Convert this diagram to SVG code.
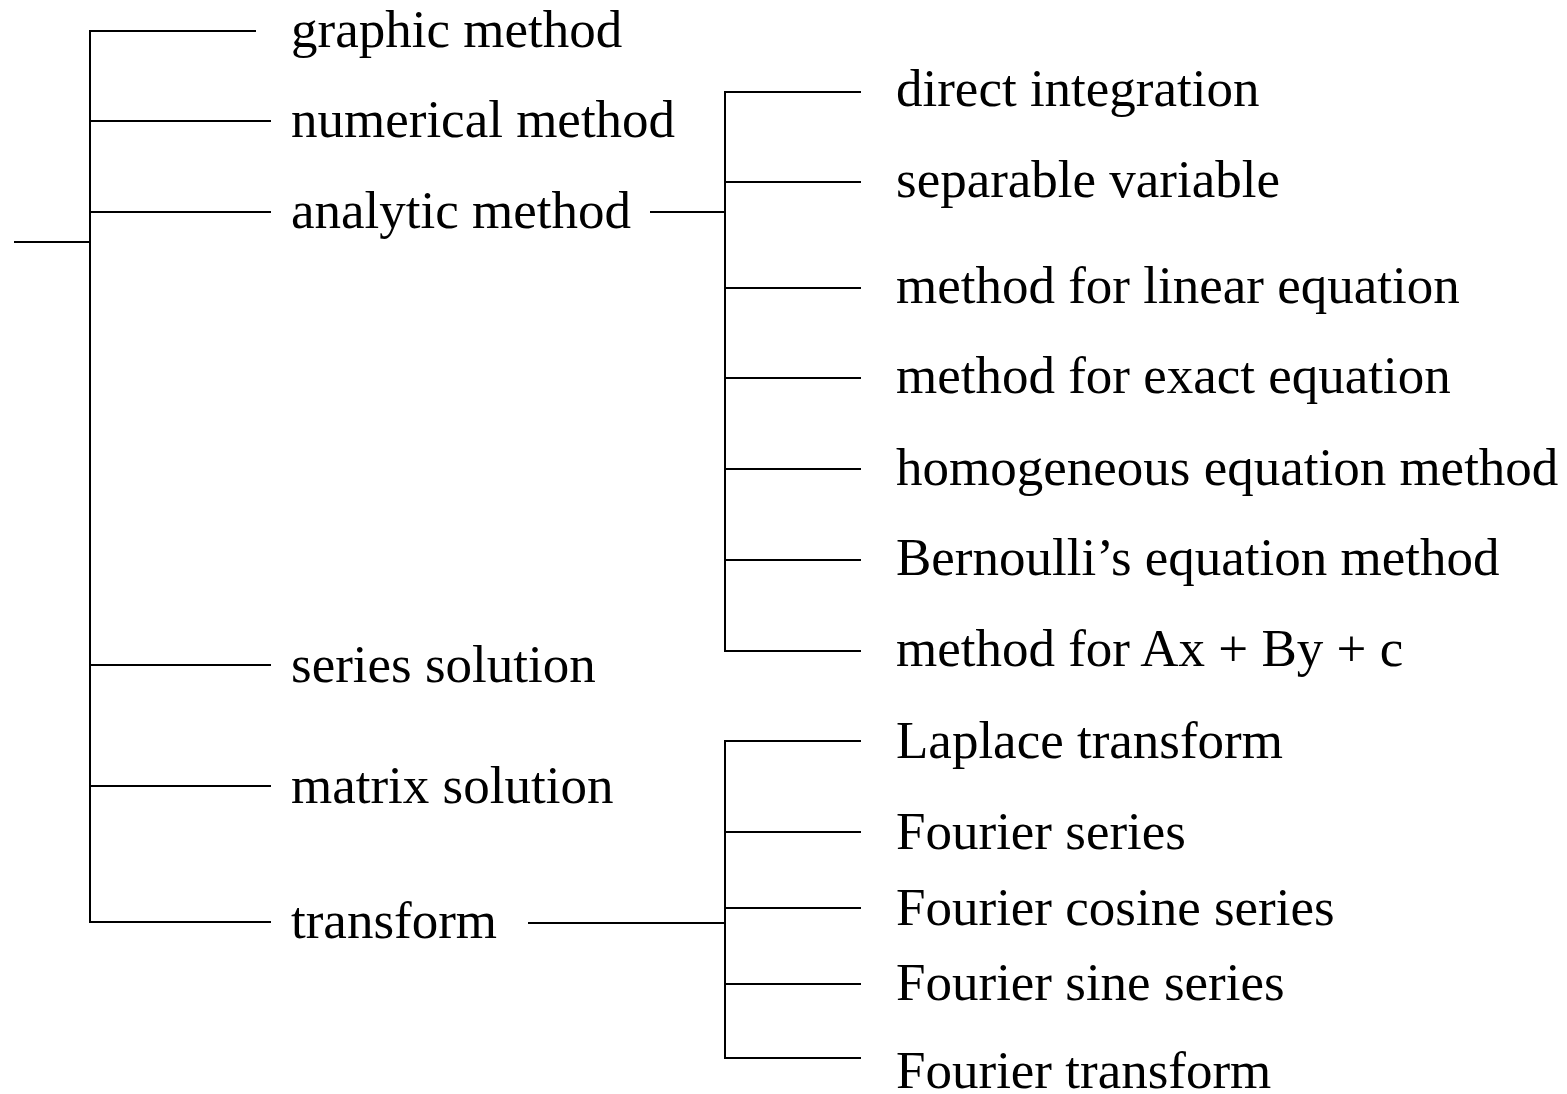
<svg xmlns="http://www.w3.org/2000/svg" width="1567" height="1094" viewBox="0 0 1567 1094">
<style>
.c line{stroke:#000;stroke-width:2;stroke-linecap:square}
text{font-family:"Liberation Serif","Times New Roman",serif;font-size:53px;fill:#000}
</style>
<rect width="1567" height="1094" fill="#fff"/>
<g id="connectors" class="c">
<line x1="15" y1="242" x2="90" y2="242"/>
<line x1="90" y1="31" x2="90" y2="922"/>
<line x1="90" y1="31" x2="255" y2="31"/>
<line x1="90" y1="121" x2="270" y2="121"/>
<line x1="90" y1="212" x2="270" y2="212"/>
<line x1="90" y1="665" x2="270" y2="665"/>
<line x1="90" y1="786" x2="270" y2="786"/>
<line x1="90" y1="922" x2="270" y2="922"/>
<line x1="651" y1="212" x2="725" y2="212"/>
<line x1="725" y1="92" x2="725" y2="651"/>
<line x1="725" y1="92" x2="860" y2="92"/>
<line x1="725" y1="182" x2="860" y2="182"/>
<line x1="725" y1="288" x2="860" y2="288"/>
<line x1="725" y1="378" x2="860" y2="378"/>
<line x1="725" y1="469" x2="860" y2="469"/>
<line x1="725" y1="560" x2="860" y2="560"/>
<line x1="725" y1="651" x2="860" y2="651"/>
<line x1="529" y1="923" x2="725" y2="923"/>
<line x1="725" y1="741" x2="725" y2="1058"/>
<line x1="725" y1="741" x2="860" y2="741"/>
<line x1="725" y1="832" x2="860" y2="832"/>
<line x1="725" y1="908" x2="860" y2="908"/>
<line x1="725" y1="984" x2="860" y2="984"/>
<line x1="725" y1="1058" x2="860" y2="1058"/>
</g>
<g id="n-graphic"><text x="291" y="47">graphic method</text></g>
<g id="n-numerical"><text x="291" y="137">numerical method</text></g>
<g id="n-analytic"><text x="291" y="228">analytic method</text></g>
<g id="n-series"><text x="291" y="682">series solution</text></g>
<g id="n-matrix"><text x="291" y="803">matrix solution</text></g>
<g id="n-transform"><text x="291" y="938">transform</text></g>
<g id="n-direct"><text x="896" y="106">direct integration</text></g>
<g id="n-separable"><text x="896" y="197">separable variable</text></g>
<g id="n-linear"><text x="896" y="303">method for linear equation</text></g>
<g id="n-exact"><text x="896" y="393">method for exact equation</text></g>
<g id="n-homogeneous"><text x="896" y="485">homogeneous equation method</text></g>
<g id="n-bernoulli"><text x="896" y="575">Bernoulli’s equation method</text></g>
<g id="n-axby"><text x="896" y="666">method for Ax + By + c</text></g>
<g id="n-laplace"><text x="896" y="758">Laplace transform</text></g>
<g id="n-fseries"><text x="896" y="849">Fourier series</text></g>
<g id="n-fcos"><text x="896" y="925">Fourier cosine series</text></g>
<g id="n-fsin"><text x="896" y="1000">Fourier sine series</text></g>
<g id="n-ftrans"><text x="896" y="1088">Fourier transform</text></g>
</svg>
